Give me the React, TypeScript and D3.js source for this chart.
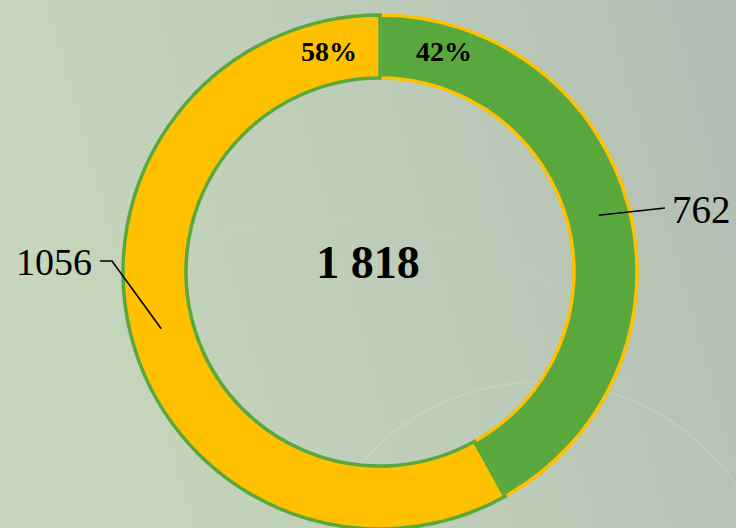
import React, { useRef, useEffect } from 'react';
import * as d3 from 'd3';

const categories = ['green', 'yellow'];
const values = [762, 1056];
const percentLabels = ['42%', '58%'];
const totalLabel = '1 818';

const fills = ['#58A83D', '#FFC000'];
const strokes = ['#FFC000', '#58A83D'];

const App = () => {
    const ref = useRef<SVGSVGElement>(null);

    useEffect(() => {
        const svg = d3.select(ref.current);
        svg.selectAll('*').remove();
        const width = 736;
        const height = 528;
        const cx = 380;
        const cy = 272;
        const outerR = 257;
        const innerR = 194;

        // background
        const defs = svg.append('defs');
        const grad = defs.append('linearGradient')
            .attr('id', 'bg')
            .attr('x1', '0').attr('y1', '0.2')
            .attr('x2', '1').attr('y2', '0');
        grad.append('stop').attr('offset', '0%').attr('stop-color', '#c6d6bb');
        grad.append('stop').attr('offset', '55%').attr('stop-color', '#bccbb8');
        grad.append('stop').attr('offset', '100%').attr('stop-color', '#b1bdb3');
        svg.append('rect').attr('width', width).attr('height', height).attr('fill', 'url(#bg)');

        // faint decorative arcs
        svg.append('circle')
            .attr('cx', 540).attr('cy', 620).attr('r', 238)
            .attr('fill', 'none').attr('stroke', '#ffffff').attr('stroke-opacity', 0.12).attr('stroke-width', 2);
        svg.append('circle')
            .attr('cx', 330).attr('cy', 640).attr('r', 420)
            .attr('fill', 'none').attr('stroke', '#ffffff').attr('stroke-opacity', 0.05).attr('stroke-width', 2);

        const g = svg.append('g').attr('transform', `translate(${cx},${cy})`);

        const pie = d3.pie<number>().sort(null).value(d => d);
        const arcs = pie(values);
        const arc = d3.arc<d3.PieArcDatum<number>>().innerRadius(innerR).outerRadius(outerR);
        const mid = d3.arc<d3.PieArcDatum<number>>().innerRadius(226).outerRadius(226);

        g.selectAll('path.slice')
            .data(arcs)
            .join('path')
            .attr('class', 'slice')
            .attr('d', arc)
            .attr('fill', (d, i) => fills[i])
            .attr('stroke', (d, i) => strokes[i])
            .attr('stroke-width', 3.5)
            .attr('stroke-linejoin', 'miter');

        // leader lines
        const leaderEnds = [
            [[665, 208]],
            [[112, 261], [100, 261]]
        ];
        arcs.forEach((d, i) => {
            const [mx, my] = mid.centroid(d);
            const pts: [number, number][] = [[mx + cx, my + cy], ...leaderEnds[i].map(p => [p[0], p[1]] as [number, number])];
            svg.append('path')
                .attr('d', d3.line()(pts))
                .attr('fill', 'none')
                .attr('stroke', '#000')
                .attr('stroke-width', 1.6);
        });

        const serif = "'Liberation Serif', 'Times New Roman', Times, serif";

        const text = (x: number, y: number, size: number, str: string, anchor = 'start', bold = false) =>
            svg.append('text')
                .attr('x', x).attr('y', y)
                .attr('text-anchor', anchor)
                .style('font-family', serif)
                .style('font-size', `${size}px`)
                .style('font-weight', bold ? 'bold' : 'normal')
                .attr('fill', '#000')
                .text(str);

        text(672, 223, 39, String(values[0]));
        text(92, 275, 38, String(values[1]), 'end');
        text(444, 61, 28, percentLabels[0], 'middle', true);
        text(329, 61, 28, percentLabels[1], 'middle', true);
        text(368, 278, 46, totalLabel, 'middle', true);
    }, []);

    return (
        <svg ref={ref} width="736" height="528" style={{ position: 'absolute', left: 0, top: 0 }}></svg>
    );
};

export default App;
